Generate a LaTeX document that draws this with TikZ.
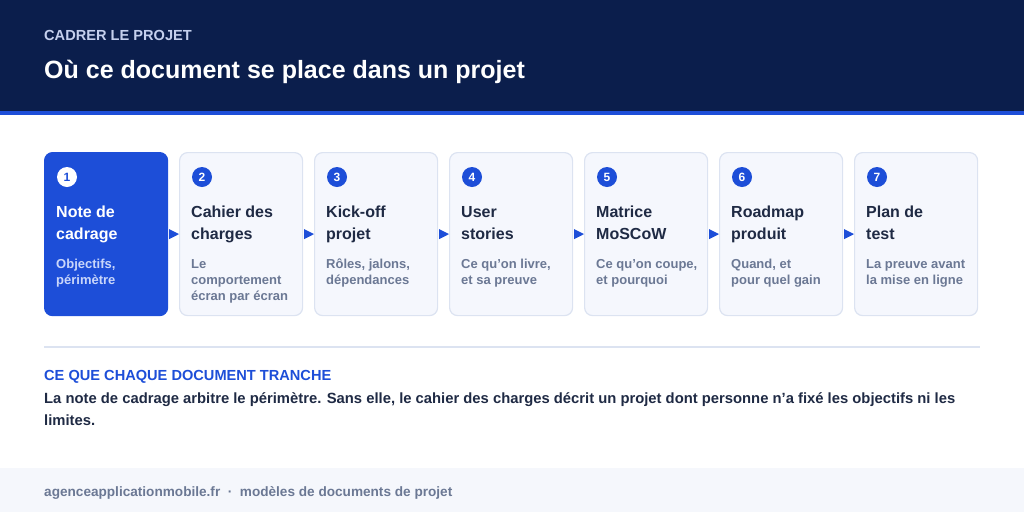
\documentclass[tikz,border=0pt]{standalone}
\usepackage{fontspec}
\setmainfont{Liberation Sans}
\usetikzlibrary{calc}
\definecolor{navy}{HTML}{0B1E4C}
\definecolor{accent}{HTML}{1D4ED8}
\definecolor{cardfill}{HTML}{F5F7FD}
\definecolor{cardline}{HTML}{DCE3F1}
\definecolor{ink}{HTML}{1F2A44}
\definecolor{muted}{HTML}{6B7894}
\definecolor{pale}{HTML}{C9D6FA}
\definecolor{kicker}{HTML}{C5D0EE}
\definecolor{footbg}{HTML}{F5F7FC}
\tikzset{
  x=1pt,y=-1pt,
  card/.style={draw=cardline,line width=1.2pt,fill=cardfill,rounded corners=8pt,minimum width=123pt,minimum height=163pt,inner sep=0pt,anchor=north west},
  cardon/.style={card,draw=accent,fill=accent},
  num/.style={circle,fill=accent,text=white,minimum size=20pt,inner sep=0pt,font=\bfseries\fontsize{12}{12}\selectfont},
  numon/.style={num,fill=white,text=accent},
  ttl/.style={anchor=base west,inner sep=0pt,align=left,text=ink,font=\bfseries\fontsize{16}{22}\selectfont},
  ttlon/.style={ttl,text=white},
  dsc/.style={anchor=base west,inner sep=0pt,align=left,text=muted,font=\bfseries\fontsize{13}{16}\selectfont},
  dscon/.style={dsc,text=pale},
  arr/.style={fill=accent},
  txt/.style={anchor=base west,inner sep=0pt}
}
\begin{document}
\begin{tikzpicture}
\useasboundingbox (0,0) rectangle (1024,512);
% header
\fill[navy] (0,0) rectangle (1024,111);
\fill[accent] (0,111) rectangle (1024,115);
\node[txt,text=kicker,font=\bfseries\fontsize{14.6}{14.6}\selectfont] (kick) at (44,40) {CADRER LE PROJET};
\node[txt,text=white,font=\bfseries\fontsize{25}{25}\selectfont] (title) at (44,78) {Où ce document se place dans un projet};
% cards
\node[cardon] (c1) at (44,152) {};
\node[card] (c2) at (179,152) {};
\node[card] (c3) at (314,152) {};
\node[card] (c4) at (449,152) {};
\node[card] (c5) at (584,152) {};
\node[card] (c6) at (719,152) {};
\node[card] (c7) at (854,152) {};
% numbers
\node[numon] (n1) at (67,177) {1};
\node[num] (n2) at (202,177) {2};
\node[num] (n3) at (337,177) {3};
\node[num] (n4) at (472,177) {4};
\node[num] (n5) at (607,177) {5};
\node[num] (n6) at (742,177) {6};
\node[num] (n7) at (877,177) {7};
% titles (anchor = baseline of last line)
\node[ttlon] (t1) at (56,239) {Note de\\cadrage};
\node[ttl] (t2) at (191,239) {Cahier des\\charges};
\node[ttl] (t3) at (326,239) {Kick-off\\projet};
\node[ttl] (t4) at (461,239) {User\\stories};
\node[ttl] (t5) at (596,239) {Matrice\\MoSCoW};
\node[ttl] (t6) at (731,239) {Roadmap\\produit};
\node[ttl] (t7) at (866,239) {Plan de\\test};
% descriptions (anchor = baseline of last line)
\node[dscon] (d1) at (56,284) {Objectifs,\\périmètre};
\node[dsc] (d2) at (191,300) {Le\\comportement\\écran par écran};
\node[dsc] (d3) at (326,284) {Rôles, jalons,\\dépendances};
\node[dsc] (d4) at (461,284) {Ce qu’on livre,\\et sa preuve};
\node[dsc] (d5) at (596,284) {Ce qu’on coupe,\\et pourquoi};
\node[dsc] (d6) at (731,284) {Quand, et\\pour quel gain};
\node[dsc] (d7) at (866,284) {La preuve avant\\la mise en ligne};
% connectors
\foreach \a/\b in {c1/c2,c2/c3,c3/c4,c4/c5,c5/c6,c6/c7}{
  \fill[arr] ([xshift=1pt,yshift=5pt]\a.east) -- (\b.west) -- ([xshift=1pt,yshift=-5pt]\a.east) -- cycle;
}
% separator
\draw[cardline,line width=2pt] (44,347) -- (980,347);
\node[txt,text=accent,font=\bfseries\fontsize{14.6}{14.6}\selectfont] (sec) at (44,380) {CE QUE CHAQUE DOCUMENT TRANCHE};
\node[txt,align=left,text=ink,font=\bfseries\fontsize{14.8}{22}\selectfont] (body) at (44,425) {La note de cadrage arbitre le périmètre. Sans elle, le cahier des charges décrit un projet dont personne n’a fixé les objectifs ni les\\limites.};
% footer
\fill[footbg] (0,468) rectangle (1024,512);
\node[txt,text=muted,font=\bfseries\fontsize{13.6}{13.6}\selectfont] (foot) at (44,496) {agenceapplicationmobile.fr \ · \ modèles de documents de projet};
\end{tikzpicture}
\end{document}
